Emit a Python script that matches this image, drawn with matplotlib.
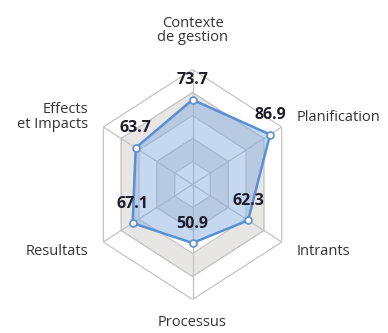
import numpy as np
import matplotlib.pyplot as plt

plt.rcParams['font.family'] = ['Open Sans', 'DejaVu Sans']

# scores per management dimension, clockwise from the top
categories = ['Contexte\nde gestion', 'Planification', 'Intrants',
              'Processus', 'Resultats', 'Effects\net Impacts']
scores = [73.7, 86.9, 62.3, 50.9, 67.1, 63.7]
levels = [20, 40, 60, 80, 100]

line_col = '#5b8fd3'
fill_col = '#7fa9df'
grid_col = '#c4c4c4'
band_col = '#e8e5e5'

n = len(categories)
angles = np.linspace(0, 2 * np.pi, n, endpoint=False)
ring = np.append(angles, angles[0])

fig = plt.figure(figsize=(3.88, 3.33), dpi=100)
ax = fig.add_axes([0.2307, 0.1006, 0.531, 0.6907], projection='polar')
ax.set_theta_offset(np.pi / 2)
ax.set_theta_direction(-1)
ax.set_aspect('auto')
ax.set_ylim(0, 100)
ax.axis('off')

# alternating grey bands between the hexagonal rings
for i, lv in enumerate(levels[::-1]):
    shade = band_col if (len(levels) - i) % 2 == 0 else 'white'
    ax.fill(ring, [lv] * len(ring), color=shade, zorder=1)
for lv in levels:
    ax.plot(ring, [lv] * len(ring), color=grid_col, lw=0.9, zorder=2)
for a in angles:
    ax.plot([a, a], [0, levels[-1]], color=grid_col, lw=0.9, zorder=2)

vals = scores + scores[:1]
ax.fill(ring, vals, color=fill_col, alpha=0.45, zorder=3)
ax.plot(ring, vals, color=line_col, lw=1.8, zorder=4)
ax.plot(angles, scores, 'o', ms=5, mfc='white', mec=line_col, mew=1.2, zorder=5)

for a, v in zip(angles, scores):
    ax.annotate(f'{v:.1f}', (a, v), xytext=(0, 14), textcoords='offset points',
                ha='center', va='center', fontsize=11.5, fontweight='bold',
                color='#1d1d2b', zorder=6)

label_pos = [(134, 'center'), (117, 'left'), (117, 'left'),
             (120, 'center'), (117, 'right'), (117, 'right')]
for a, name, (r, ha) in zip(angles, categories, label_pos):
    ax.text(a, r, name, ha=ha, va='center', fontsize=10.5, color='#333333',
            linespacing=0.95)

fig.savefig('out.png', dpi=100)
